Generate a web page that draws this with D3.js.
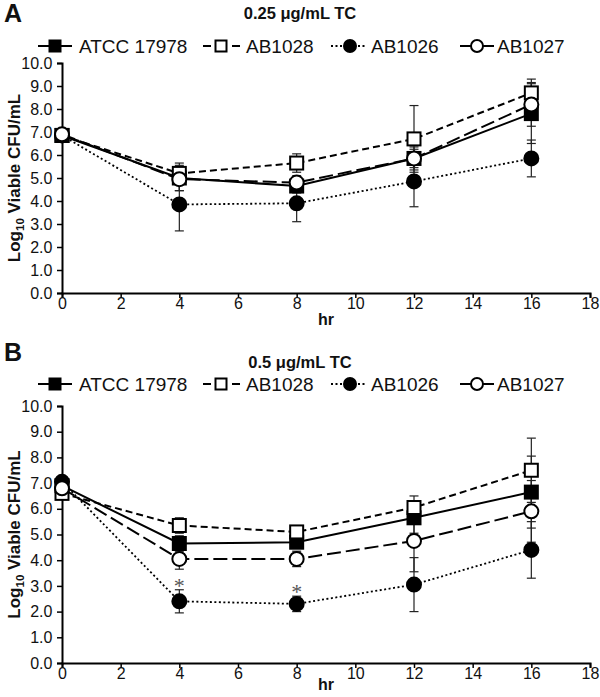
<!DOCTYPE html>
<html><head><meta charset="utf-8">
<script src="https://cdn.jsdelivr.net/npm/d3@7"></script>
<style>body{margin:0;background:#fff}svg{display:block}text{font-family:"Liberation Sans",Arial,sans-serif;fill:#111}</style>
</head><body>
<script>
const hours = [0, 4, 8, 12, 16];
const seriesNames = ["ATCC 17978", "AB1028", "AB1026", "AB1027"];
const xTicks = [0, 2, 4, 6, 8, 10, 12, 14, 16, 18];
const yTicks = [0, 1, 2, 3, 4, 5, 6, 7, 8, 9, 10];

// Panel A: 0.25 µg/mL TC
const a_ATCC = [6.85, 5.0, 4.65, 5.85, 7.8];
const a_AB1028 = [6.85, 5.2, 5.65, 6.7, 8.7];
const a_AB1026 = [6.85, 3.85, 3.9, 4.85, 5.85];
const a_AB1027 = [6.9, 4.95, 4.8, 5.85, 8.2];
const a_errATCC = [0.1, 0.55, 0.3, 0.5, 1.3];
const a_errAB1028 = [0.1, 0.45, 0.4, 1.45, 0.6];
const a_errAB1026 = [0.1, 1.15, 0.8, 1.1, 0.8];
const a_errAB1027 = [0.1, 0.5, 0.3, 0.4, 0.95];

// Panel B: 0.5 µg/mL TC
const b_ATCC = [6.9, 4.65, 4.7, 5.65, 6.65];
const b_AB1028 = [6.6, 5.35, 5.1, 6.05, 7.5];
const b_AB1026 = [7.05, 2.4, 2.3, 3.05, 4.4];
const b_AB1027 = [6.8, 4.05, 4.05, 4.75, 5.9];
const b_errATCC = [0.1, 0.3, 0.2, 0.6, 1.4];
const b_errAB1028 = [0.1, 0.3, 0.15, 0.45, 1.25];
const b_errAB1026 = [0.1, 0.45, 0.3, 1.05, 1.1];
const b_errAB1027 = [0.1, 0.4, 0.3, 1.2, 1.2];
const b_signif = [4, 8];

const styles = {
  "ATCC 17978": {dash: null, width: 2, marker: "square", fill: "#000"},
  "AB1028": {dash: "7,4", width: 2, marker: "square", fill: "#fff"},
  "AB1026": {dash: "2,2.5", width: 1.8, marker: "circle", fill: "#000"},
  "AB1027": {dash: "14,5", width: 2, marker: "circle", fill: "#fff"}
};

const svg = d3.select("body").append("svg").attr("width", 600).attr("height", 697);

function drawMarker(g, type, fill, x, y, sz) {
  if (type === "square") {
    g.append("rect").attr("x", x - sz).attr("y", y - sz).attr("width", 2 * sz).attr("height", 2 * sz)
      .attr("fill", fill).attr("stroke", "#000").attr("stroke-width", 2);
  } else {
    g.append("circle").attr("cx", x).attr("cy", y).attr("r", sz + 0.5)
      .attr("fill", fill).attr("stroke", "#000").attr("stroke-width", 2);
  }
}

function panel(cfg) {
  const x = d3.scaleLinear().domain([0, 18]).range([62, 590]);
  const y = d3.scaleLinear().domain([0, 10]).range([cfg.y0, cfg.y10]);
  const g = svg.append("g");

  g.append("text").attr("x", 4).attr("y", cfg.letterY).attr("font-size", 25).attr("font-weight", "bold").text(cfg.letter);
  g.append("text").attr("x", 300).attr("y", cfg.titleY).attr("text-anchor", "middle").attr("font-size", 16.5)
    .attr("font-weight", "bold").text(cfg.title);

  // legend
  const legX = [[38, 72, 55, 79], [203, 240, 221, 246], [331, 367, 350, 371], [460, 494, 477, 497]];
  seriesNames.forEach((n, i) => {
    const s = styles[n], L = legX[i];
    const lg = g.append("g");
    lg.append("line").attr("x1", L[0]).attr("x2", L[1]).attr("y1", cfg.legY).attr("y2", cfg.legY)
      .attr("stroke", "#000").attr("stroke-width", s.width).attr("stroke-dasharray", n === "AB1028" ? "8,21,8" : (n === "AB1026" ? "2,2.5" : null));
    drawMarker(lg, s.marker, s.fill, L[2], cfg.legY, 5.5);
    lg.append("text").attr("x", L[3]).attr("y", cfg.legY).attr("dy", "0.36em").attr("font-size", 19).text(n);
  });

  // axes
  const xAxis = d3.axisBottom(x).tickValues(xTicks).tickSize(5).tickPadding(2).tickFormat(d3.format("d"));
  const yAxis = d3.axisLeft(y).tickValues(yTicks).tickSize(5).tickFormat(d3.format(".1f"));
  const gx = g.append("g").attr("transform", `translate(0,${cfg.y0})`).call(xAxis);
  const gy = g.append("g").attr("transform", `translate(62,0)`).call(yAxis);
  [gx, gy].forEach(a => {
    a.select(".domain").attr("stroke", "#000").attr("stroke-width", 2);
    a.selectAll(".tick line").attr("stroke", "#000").attr("stroke-width", 1.5);
    a.selectAll(".tick text").attr("font-size", 16).attr("fill", "#111").attr("font-family", "Liberation Sans, Arial, sans-serif");
  });
  gx.selectAll(".tick text").attr("dy", "0.55em");
  gy.selectAll(".tick text").attr("dx", "-0.1em");
  g.append("text").attr("x", 326).attr("y", cfg.y0 + cfg.hrOff).attr("text-anchor", "middle").attr("font-size", 16)
    .attr("font-weight", "bold").text("hr");
  const yl = g.append("text").attr("transform", `translate(20,${(cfg.y0 + cfg.y10) / 2}) rotate(-90)`)
    .attr("text-anchor", "middle").attr("font-size", 17).attr("font-weight", "bold");
  yl.append("tspan").text("Log");
  yl.append("tspan").attr("font-size", 11.5).attr("dy", 4).text("10");
  yl.append("tspan").attr("dy", -4).text(" Viable CFU/mL");

  const lineGen = d3.line().x((d, i) => x(hours[i])).y(d => y(d));
  const data = cfg.data, errs = cfg.errs;

  // error bars
  seriesNames.forEach((n, k) => {
    data[k].forEach((v, i) => {
      const e = errs[k][i];
      if (e < 0.15) return;
      const cx = x(hours[i]);
      g.append("line").attr("x1", cx).attr("x2", cx).attr("y1", y(v - e)).attr("y2", y(v + e))
        .attr("stroke", "#222").attr("stroke-width", 1.2);
      [v - e, v + e].forEach(t => g.append("line").attr("x1", cx - 4.5).attr("x2", cx + 4.5)
        .attr("y1", y(t)).attr("y2", y(t)).attr("stroke", "#222").attr("stroke-width", 1.2));
    });
  });
  // lines
  seriesNames.forEach((n, k) => {
    const s = styles[n];
    g.append("path").attr("d", lineGen(data[k])).attr("fill", "none").attr("stroke", "#000")
      .attr("stroke-width", s.width).attr("stroke-dasharray", s.dash);
  });
  // markers
  seriesNames.forEach((n, k) => {
    const s = styles[n];
    data[k].forEach((v, i) => drawMarker(g, s.marker, s.fill, x(hours[i]), y(v), 6.5));
  });
  // significance
  (cfg.signif || []).forEach(h => {
    const i = hours.indexOf(h);
    g.append("text").attr("x", x(h)).attr("y", y(data[2][i] + errs[2][i]) + 3).attr("text-anchor", "middle")
      .attr("font-size", 22).style("font-family", "Liberation Serif, serif")
      .style("fill", "#555").text("*");
  });
}

panel({letter: "A", letterY: 22, title: "0.25 μg/mL TC", titleY: 19, legY: 46, y10: 63, y0: 293, hrOff: 32,
  data: [a_ATCC, a_AB1028, a_AB1026, a_AB1027], errs: [a_errATCC, a_errAB1028, a_errAB1026, a_errAB1027]});
panel({letter: "B", letterY: 361, title: "0.5 μg/mL TC", titleY: 368, legY: 384, y10: 406, y0: 663, hrOff: 27,
  data: [b_ATCC, b_AB1028, b_AB1026, b_AB1027], errs: [b_errATCC, b_errAB1028, b_errAB1026, b_errAB1027], signif: b_signif});
</script>
</body></html>
